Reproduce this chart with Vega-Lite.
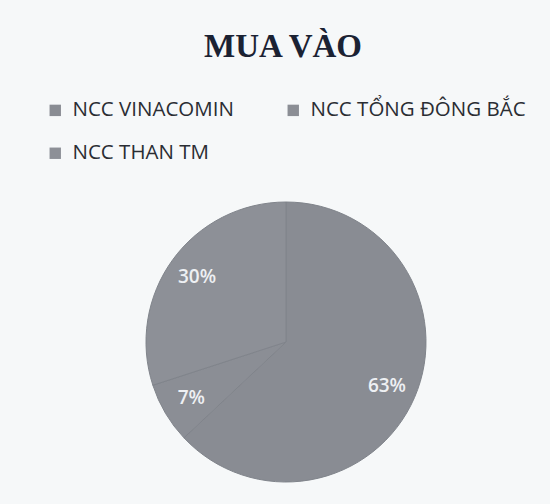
{
  "$schema": "https://vega.github.io/schema/vega-lite/v6.json",
  "width": 280,
  "height": 280,
  "autosize": {"type": "none"},
  "padding": {"left": 146, "top": 202, "right": 124, "bottom": 22},
  "background": "#f6f8f9",
  "title": {
    "text": "MUA VÀO",
    "font": "Liberation Serif",
    "fontSize": 33,
    "fontWeight": "bold",
    "color": "#1b2233",
    "anchor": "middle",
    "frame": "group",
    "dx": -3,
    "offset": 36
  },
  "data": {
    "values": [
      {"ncc": "NCC VINACOMIN", "pct": 63, "label": "63%", "order": 1},
      {"ncc": "NCC TỔNG ĐÔNG BẮC", "pct": 7, "label": "7%", "order": 2},
      {"ncc": "NCC THAN TM", "pct": 30, "label": "30%", "order": 3}
    ]
  },
  "encoding": {
    "theta": {"field": "pct", "type": "quantitative", "stack": true},
    "order": {"field": "order", "type": "quantitative"}
  },
  "layer": [
    {
      "mark": {"type": "arc", "stroke": "#80848b", "strokeWidth": 1},
      "encoding": {
        "color": {
          "field": "ncc",
          "type": "nominal",
          "sort": ["NCC VINACOMIN", "NCC TỔNG ĐÔNG BẮC", "NCC THAN TM"],
          "scale": {
            "domain": ["NCC VINACOMIN", "NCC TỔNG ĐÔNG BẮC", "NCC THAN TM"],
            "range": ["#898c93", "#8b8e95", "#8d9097"]
          },
          "legend": {
            "title": null,
            "orient": "none",
            "legendX": -101,
            "legendY": -102,
            "direction": "horizontal",
            "columns": 2,
            "columnPadding": 49,
            "rowPadding": 22,
            "symbolType": "square",
            "symbolSize": 130,
            "symbolStrokeWidth": 0,
            "symbolOffset": 0,
            "labelFont": "Open Sans",
            "labelFontSize": 20.5,
            "labelColor": "#2a2d33",
            "labelOffset": 7,
            "labelLimit": 300
          }
        }
      }
    },
    {
      "mark": {"type": "text", "radius": 110, "font": "Open Sans", "fontSize": 19, "fontWeight": 600, "color": "#eef0f3"},
      "encoding": {
        "text": {"field": "label", "type": "nominal"}
      }
    }
  ]
}
